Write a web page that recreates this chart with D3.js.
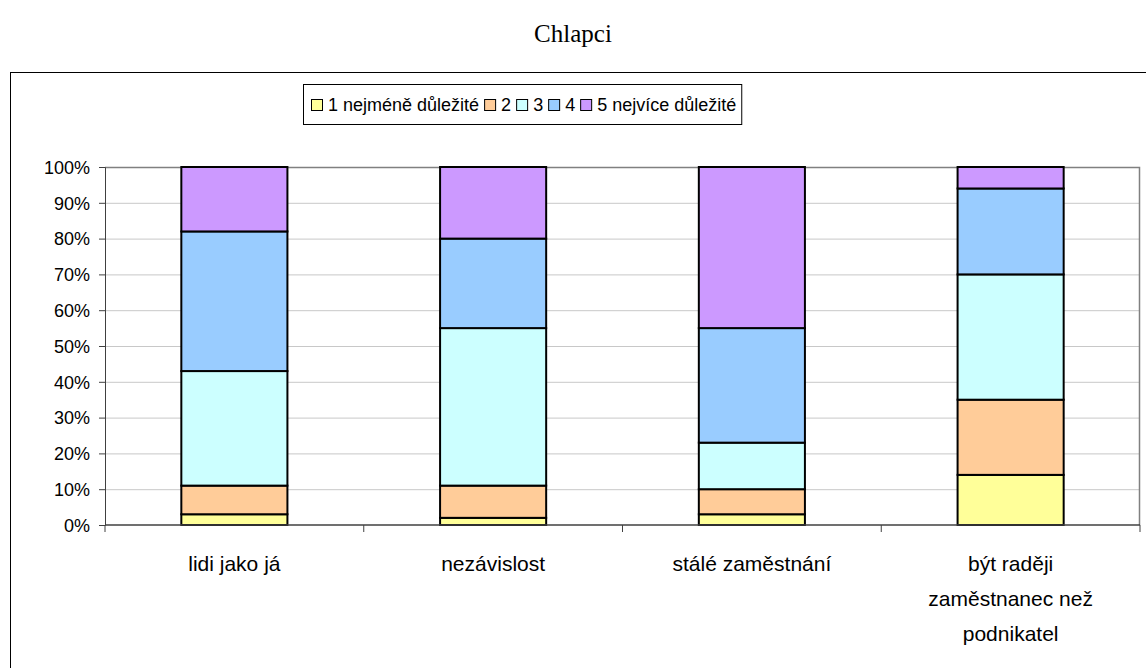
<!DOCTYPE html>
<html>
<head>
<meta charset="utf-8">
<script src="https://cdn.jsdelivr.net/npm/d3@7"></script>
<style>
  body { margin: 0; background: #fff; }
  svg { display: block; }
  .grid line { stroke: #c8c8c8; stroke-width: 1px; }
  .grid path { display: none; }
  .axis path, .axis line { stroke: #404040; }
  .axis text { font-family: Arial, "Liberation Sans", sans-serif; font-size: 17px; fill: #000; }
</style>
</head>
<body>
<svg id="chart"></svg>
<script>
// categories (line breaks as in the original)
const categories = ["lidi jako já", "nezávislost", "stálé zaměstnání", "být raději\nzaměstnanec než\npodnikatel"]
const seriesNames = ["1 nejméně důležité", "2", "3", "4", "5 nejvíce důležité"]
const colors = ["#ffff99", "#ffcc99", "#ccffff", "#99ccff", "#cc99ff"]

// share of answers (%) per category
const s1 = [3, 2, 3, 14]
const s2 = [8, 9, 7, 21]
const s3 = [32, 44, 13, 35]
const s4 = [39, 25, 32, 24]
const s5 = [18, 20, 45, 6]
const yTicks = [0, 0.1, 0.2, 0.3, 0.4, 0.5, 0.6, 0.7, 0.8, 0.9, 1]

var series = [s1, s2, s3, s4, s5]
var rows = categories.map(function(c, i) {
  var r = { cat: c }
  seriesNames.forEach(function(n, k) { r[n] = series[k][i] })
  return r
})

var W = 1146, H = 668
var margin = {top: 167, right: 6, bottom: 143, left: 105},
  width = W - margin.left - margin.right,
  height = H - margin.top - margin.bottom;

var svg = d3.select("#chart").attr("width", W).attr("height", H)

// title
svg.append("text")
  .attr("x", 573).attr("y", 42)
  .attr("text-anchor", "middle")
  .style("font-family", "'Liberation Serif', 'Times New Roman', serif")
  .style("font-size", "25px")
  .text("Chlapci")

// outer chart frame
svg.append("rect")
  .attr("x", 10.5).attr("y", 72.5)
  .attr("width", 1150).attr("height", 700)
  .attr("fill", "none").attr("stroke", "#000").attr("stroke-width", 1)

var g = svg.append("g").attr("transform", "translate(" + margin.left + "," + margin.top + ")")

var x = d3.scaleBand().domain(categories).range([0, width]).paddingInner(0.59).paddingOuter(0.295)
var xb = d3.scaleBand().domain(categories).range([0, width])
var y = d3.scaleLinear().domain([0, 1]).range([height, 0])

// gridlines
g.append("g").attr("class", "grid")
  .call(d3.axisLeft(y).tickValues(yTicks.slice(1)).tickSize(-width).tickFormat(""))

// plot frame top/right
g.append("path")
  .attr("d", "M0,0.5H" + (width - 0.5) + "V" + height)
  .attr("fill", "none").attr("stroke", "#808080").attr("stroke-width", 1.5)

var stack = d3.stack().keys(seriesNames).offset(d3.stackOffsetExpand)
var layers = stack(rows)

g.selectAll(".layer")
  .data(layers)
  .enter().append("g")
    .attr("class", "layer")
    .attr("fill", function(d, i) { return colors[i] })
  .selectAll("rect")
  .data(function(d) { return d })
  .enter().append("rect")
    .attr("x", function(d) { return x(d.data.cat) })
    .attr("y", function(d) { return y(d[1]) })
    .attr("width", x.bandwidth())
    .attr("height", function(d) { return y(d[0]) - y(d[1]) })
    .attr("stroke", "#000").attr("stroke-width", 2)

// y axis
g.append("g").attr("class", "axis")
  .call(d3.axisLeft(y).tickValues(yTicks).tickFormat(d3.format(".0%")).tickSize(6).tickPadding(9))
  .selectAll("text").attr("dy", "0.35em").style("font-size", "18px")

// x axis: ticks at category boundaries
var xa = g.append("g").attr("class", "axis").attr("transform", "translate(0," + height + ")")
xa.append("line").attr("x1", 0).attr("x2", width).attr("stroke", "#404040").attr("stroke-width", 1.5)
xa.selectAll(".xtick")
  .data(categories.concat(["end"]))
  .enter().append("line")
    .attr("x1", function(d, i) { return i * xb.step() })
    .attr("x2", function(d, i) { return i * xb.step() })
    .attr("y1", 0).attr("y2", 7)
    .attr("stroke", "#404040")

xa.selectAll(".xlab")
  .data(categories)
  .enter().append("text")
    .attr("text-anchor", "middle")
    .attr("transform", function(d) { return "translate(" + (xb(d) + xb.bandwidth() / 2) + ",46)" })
    .style("font-size", "21px")
    .each(function(d) {
      var t = d3.select(this)
      d.split("\n").forEach(function(line, i) {
        t.append("tspan").attr("x", 0).attr("y", i * 35).text(line)
      })
    })

// legend
var leg = svg.append("g").attr("transform", "translate(303,84)")
var legBox = leg.append("rect").attr("height", 40).attr("fill", "#fff").attr("stroke", "#000")
var cx = 8
seriesNames.forEach(function(n, i) {
  leg.append("rect")
    .attr("x", cx + 0.5).attr("y", 15.5).attr("width", 11).attr("height", 11)
    .attr("fill", colors[i]).attr("stroke", "#000")
  var t = leg.append("text")
    .attr("x", cx + 17).attr("y", 27)
    .style("font-family", "Arial, 'Liberation Sans', sans-serif")
    .style("font-size", "18px")
    .text(n)
  cx += 17 + t.node().getComputedTextLength() + 5
})
legBox.attr("x", 0.5).attr("y", 0.5).attr("width", cx)
</script>
</body>
</html>
